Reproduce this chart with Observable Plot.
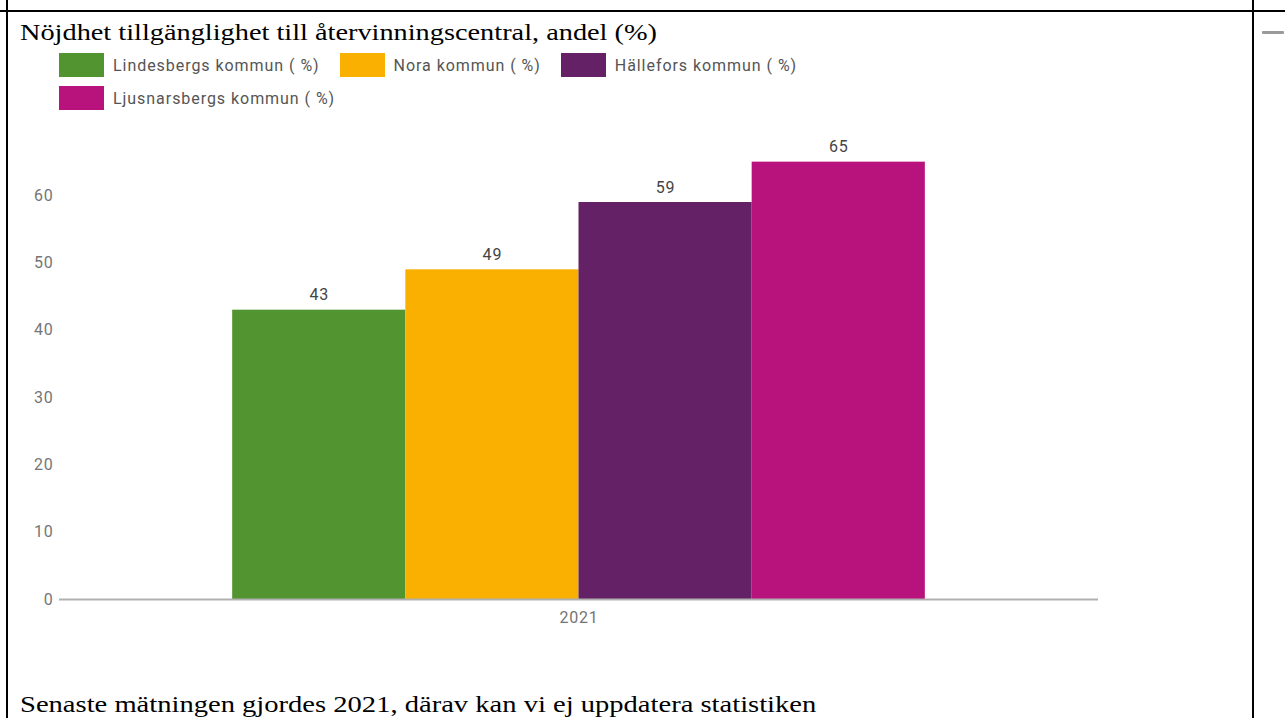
<!DOCTYPE html>
<html><head><meta charset="utf-8">
<script src="https://cdn.jsdelivr.net/npm/d3@7"></script>
<script src="https://cdn.jsdelivr.net/npm/@observablehq/plot@0.6"></script>
<style>
html,body{margin:0;padding:0;background:#fff}
body{width:1285px;height:718px;overflow:hidden;position:relative;font-family:Roboto,sans-serif}
.bt{position:absolute;left:0;top:10px;width:1285px;height:2px;background:#000}
.bl{position:absolute;left:6px;top:0;width:2px;height:718px;background:#000}
.br{position:absolute;left:1252px;top:0;width:2px;height:718px;background:#000}
.dash{position:absolute;left:1262px;top:31px;width:22px;height:3px;background:#9a9a9a;border-radius:1px}
.title{position:absolute;left:20px;top:20px;font-family:"Liberation Serif",serif;font-size:24px;line-height:24px;color:#000;white-space:nowrap;transform:scaleX(1.18);transform-origin:0 0}
.footer{position:absolute;left:20px;top:692px;font-family:"Liberation Serif",serif;font-size:24px;line-height:24px;color:#000;white-space:nowrap;transform:scaleX(1.19);transform-origin:0 0}
#legend{position:absolute;left:59px;top:53px;width:800px;display:flex;flex-wrap:wrap;row-gap:9px}
.item{display:flex;align-items:center;margin-right:20px;height:24px}
.sw{width:45px;height:24px;margin-right:9px}
.lab{font-size:16px;color:#555;white-space:nowrap;letter-spacing:0.95px}
#chart{position:absolute;left:0;top:120px}
#chart svg text{letter-spacing:0.8px}
</style>
</head><body>
<div class="bt"></div><div class="bl"></div><div class="br"></div><div class="dash"></div>
<div class="title">Nöjdhet tillgänglighet till återvinningscentral, andel (%)</div>
<div id="legend"></div>
<div id="chart"></div>
<div class="footer">Senaste mätningen gjordes 2021, därav kan vi ej uppdatera statistiken</div>
<script>
const years = [2021];
const series = ["Lindesbergs kommun ( %)", "Nora kommun ( %)", "Hällefors kommun ( %)", "Ljusnarsbergs kommun ( %)"];
const values = [43, 49, 59, 65];
const colors = ["#529530", "#F9B000", "#642165", "#B8127D"];
const yTicks = [0, 10, 20, 30, 40, 50, 60];

const data = series.map((s, i) => ({year: years[0], series: s, value: values[i]}));

const legend = document.getElementById("legend");
series.forEach((s, i) => {
  const it = document.createElement("div"); it.className = "item";
  const sw = document.createElement("div"); sw.className = "sw"; sw.style.background = colors[i];
  const lb = document.createElement("div"); lb.className = "lab"; lb.textContent = s;
  it.appendChild(sw); it.appendChild(lb); legend.appendChild(it);
});

const chart = Plot.plot({
  width: 1240,
  height: 509,
  marginLeft: 59,
  marginRight: 142,
  marginTop: 8,
  marginBottom: 30,
  style: {fontFamily: "Roboto, sans-serif", fontSize: "16px", background: "transparent", color: "#757575"},
  fx: {domain: years, padding: 0, label: null, round: false},
  x: {domain: series, paddingInner: 0, paddingOuter: 1, axis: null, round: false},
  y: {domain: [0, 70], label: null},
  color: {domain: series, range: colors},
  marks: [
    Plot.axisY({ticks: yTicks, tickSize: 0, tickPadding: 6, label: null, fill: "#757575"}),
    Plot.axisFx({anchor: "bottom", tickSize: 0, tickPadding: 12, label: null, fill: "#757575", tickFormat: d => String(d)}),
    Plot.barY(data, {fx: "year", x: "series", y: "value", fill: "series"}),
    Plot.text(data, {fx: "year", x: "series", y: "value", text: d => String(d.value), dy: -15, fill: "#444", fontSize: 16}),
    Plot.ruleY([0], {stroke: "#b0b0b0", strokeWidth: 2})
  ]
});
document.getElementById("chart").appendChild(chart);
</script>
</body></html>
